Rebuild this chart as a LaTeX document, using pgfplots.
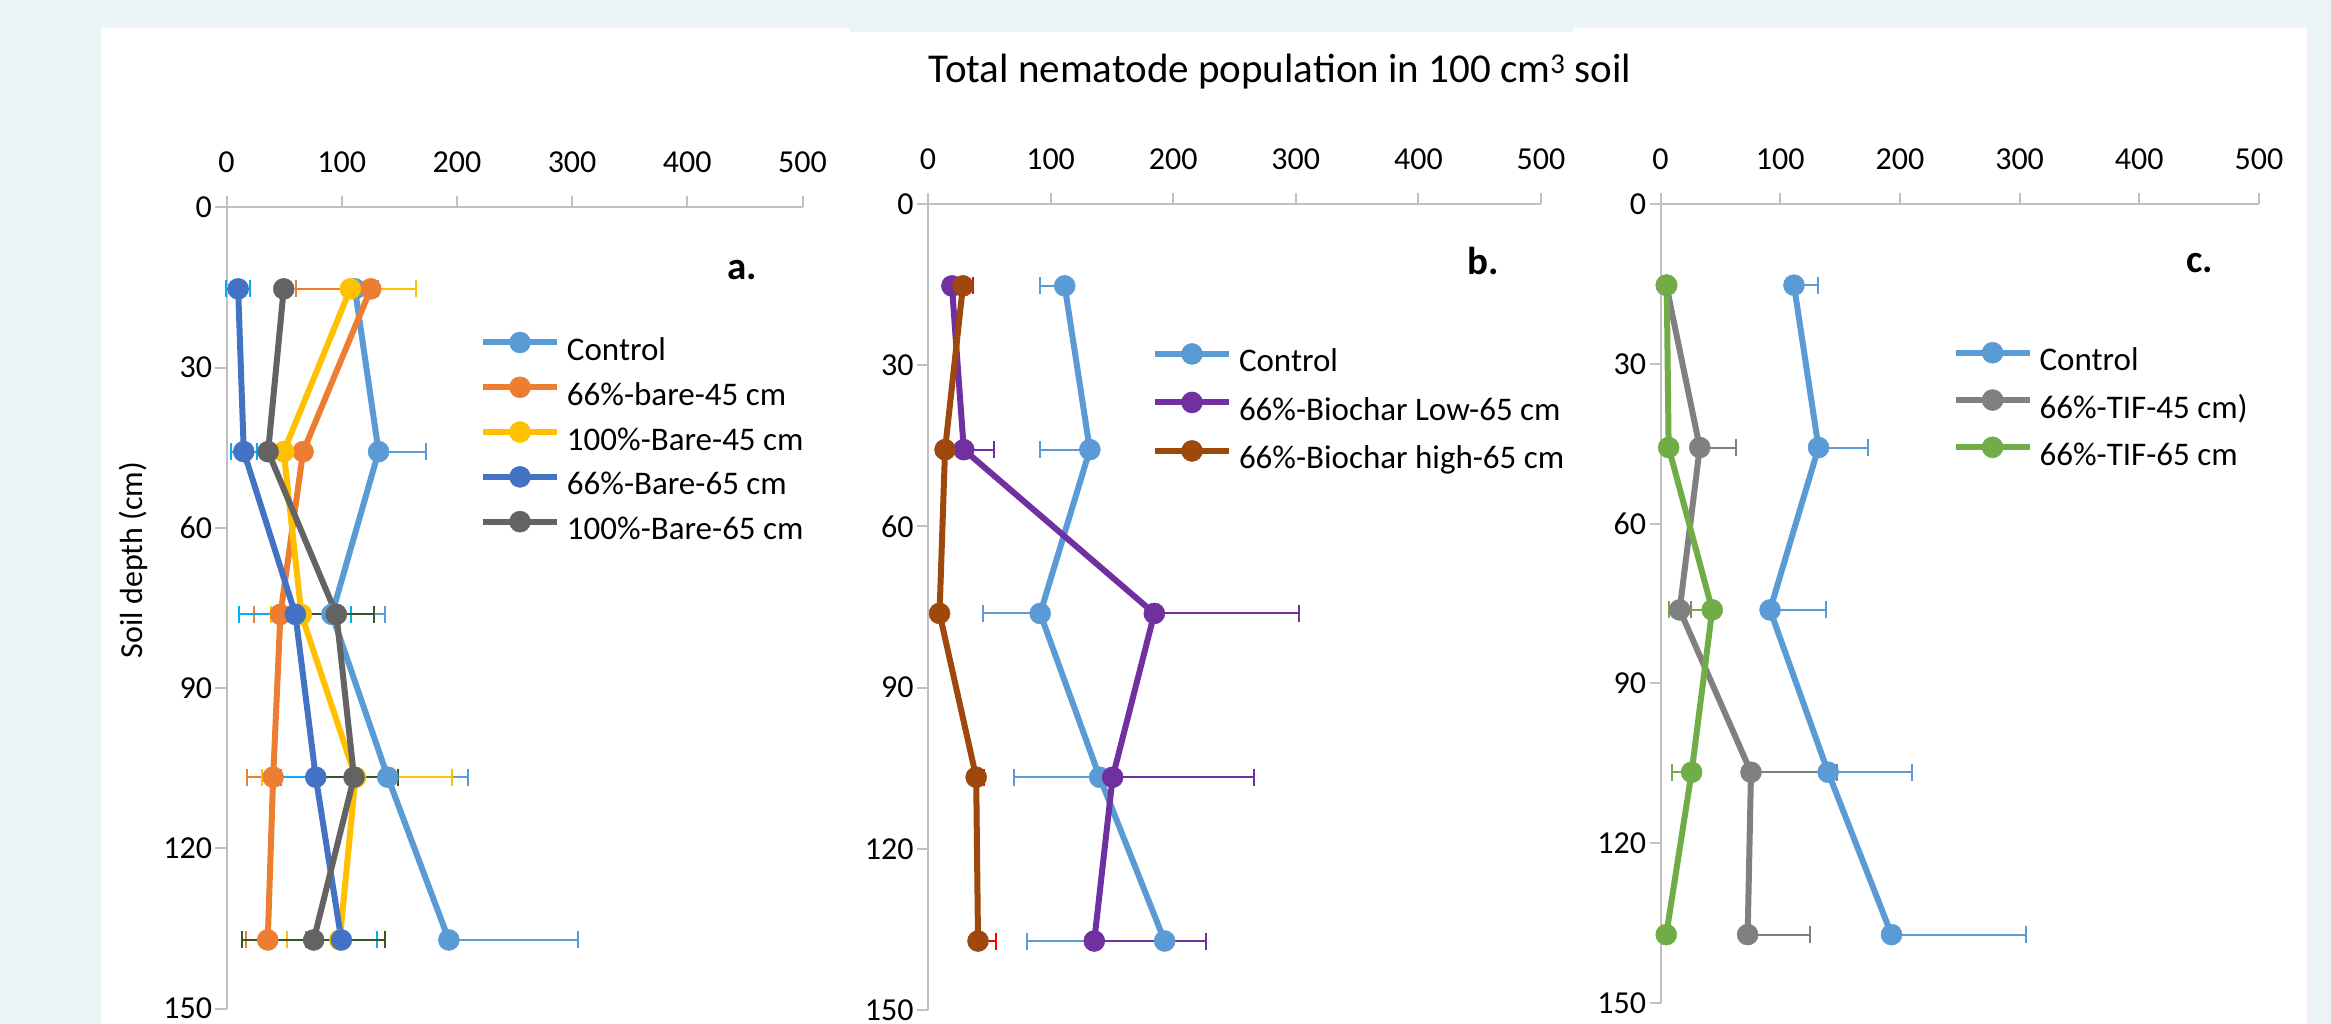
\documentclass[border=0pt]{standalone}
\usepackage{fontspec}
\setmainfont{Carlito}
\usepackage{pgfplots}
\pgfplotsset{compat=1.18}
\definecolor{bgc}{HTML}{EAF4F6}
\definecolor{cctrl}{HTML}{5B9BD5}
\definecolor{corange}{HTML}{ED7D31}
\definecolor{cyellow}{HTML}{FFC000}
\definecolor{cblue}{HTML}{4472C4}
\definecolor{cdgray}{HTML}{636363}
\definecolor{ccyan}{HTML}{00B0F0}
\definecolor{cdgreen}{HTML}{375623}
\definecolor{cpurple}{HTML}{7030A0}
\definecolor{cbrown}{HTML}{9E480E}
\definecolor{cred}{HTML}{FF0000}
\definecolor{cgray}{HTML}{808080}
\definecolor{cgreen}{HTML}{70AD47}
\definecolor{caxis}{HTML}{C0C0C0}
\pgfplotsset{
  panel/.style={
    scale only axis, clip=false,
    xmin=0, xmax=500, ymin=0, ymax=150, y dir=reverse,
    axis x line*=top, axis y line*=left,
    xtick={0,100,...,500}, ytick={0,30,...,150},
    tick align=outside, major tick length=11pt,
    axis line style={draw=caxis, line width=2pt},
    tick style={draw=caxis, line width=2pt},
    /pgf/number format/assume math mode=true,
    ticklabel style={font=\fontsize{32}{38}\selectfont},
    xticklabel style={yshift=20pt},
    legend cell align=left,
    legend style={draw=none, fill=none, inner sep=0pt, outer sep=0pt, anchor=north west,
      font=\fontsize{33}{40}\selectfont,
      nodes={inner sep=0pt, text height=22pt, text depth=6pt}, column sep=7pt},
    legend image code/.code={\draw[mark repeat=2,mark phase=2,##1] plot coordinates {(0pt,10pt) (37pt,10pt) (74pt,10pt)};},
  },
  ser/.style={color=#1, line width=6pt, mark=*, mark size=10.5pt,
    mark options={solid, fill=#1, draw=#1, line width=0.5pt}},
  eb/.style 2 args={forget plot, draw=none, mark=none,
    error bars/.cd, x dir=#2, x explicit, error mark=|,
    error bar style={draw=#1, line width=2pt},
    error mark options={draw=#1, line width=2pt, mark size=8.5pt}},
}
\begin{document}
\begin{tikzpicture}[x=1pt,y=1pt]
\useasboundingbox (0,0) rectangle (2331,1024);
\fill[bgc] (0,0) rectangle (2331,1024);
\fill[white] (101,0) rectangle (850,996);
\fill[white] (850,0) rectangle (1573,992);
\fill[white] (1573,0) rectangle (2307,996);
\node[anchor=base, font=\fontsize{41}{48}\selectfont] at (1280,941) {Total nematode population in 100 cm\textsuperscript{3} soil};
\node[rotate=90, font=\fontsize{32}{38}\selectfont] at (133,464) {Soil depth (cm)};
\node[anchor=base west, font=\bfseries\fontsize{39}{46}\selectfont] at (724,744) {a.};
\node[anchor=base west, font=\bfseries\fontsize{39}{46}\selectfont] at (1464,749) {b.};
\node[anchor=base west, font=\bfseries\fontsize{39}{46}\selectfont] at (2183,751) {c.};

% ---------------- panel a
\begin{axis}[panel, at={(226.5pt,15.5pt)}, anchor=south west, width=576pt, height=801pt,
  legend style={at={(axis description cs:0.4401,0.8446)}, row sep=10.3pt}]
\addplot[eb={cctrl}{plus}] coordinates {(111.5,15.24) +- (20,0) (132,45.72) +- (41,0) (91.5,76.2) +- (46.5,0) (140,106.68) +- (70,0) (193,137.16) +- (112,0)};
\addplot[eb={corange}{minus}] coordinates {(125.2,15.24) +- (64.5,0) (46.8,76.2) +- (23.1,0) (40.5,106.68) +- (22.6,0) (35.8,137.16) +- (18.5,0)};
\addplot[eb={cyellow}{plus}] coordinates {(107.5,15.24) +- (57.3,0) (112,106.68) +- (84,0)};
\addplot[eb={cyellow}{minus}] coordinates {(65,76.2) +- (26.5,0) (112,106.68) +- (81,0) (98.3,137.16) +- (45.4,0)};
\addplot[eb={ccyan}{both}] coordinates {(10.1,15.24) +- (10.5,0) (15,45.72) +- (11.3,0) (59.8,76.2) +- (48.7,0) (77.5,106.68) +- (30,0) (99.7,137.16) +- (31,0)};
\addplot[eb={cdgreen}{both}] coordinates {(95.4,76.2) +- (32.7,0) (110.7,106.68) +- (38,0) (75.7,137.16) +- (62,0)};
\addplot[ser=cctrl] coordinates {(111.5,15.24) (132,45.72) (91.5,76.2) (140,106.68) (193,137.16)};
\addlegendentry{Control}
\addplot[ser=corange] coordinates {(125.2,15.24) (66.5,45.72) (46.8,76.2) (40.5,106.68) (35.8,137.16)};
\addlegendentry{66\%-bare-45 cm}
\addplot[ser=cyellow] coordinates {(107.5,15.24) (49.7,45.72) (65,76.2) (112,106.68) (98.3,137.16)};
\addlegendentry{100\%-Bare-45 cm}
\addplot[ser=cblue] coordinates {(10.1,15.24) (15,45.72) (59.8,76.2) (77.5,106.68) (99.7,137.16)};
\addlegendentry{66\%-Bare-65 cm}
\addplot[ser=cdgray] coordinates {(49.7,15.24) (36.1,45.72) (95.4,76.2) (110.7,106.68) (75.7,137.16)};
\addlegendentry{100\%-Bare-65 cm}
\end{axis}

% ---------------- panel b
\begin{axis}[panel, at={(928pt,14pt)}, anchor=south west, width=613pt, height=806pt,
  legend style={at={(axis description cs:0.3654,0.827)}, row sep=14pt}]
\addplot[eb={cctrl}{minus}] coordinates {(111.5,15.24) +- (20,0) (132,45.72) +- (41,0) (91.5,76.2) +- (46.5,0) (140,106.68) +- (70,0) (193,137.16) +- (112,0)};
\addplot[eb={cpurple}{plus}] coordinates {(29.2,45.72) +- (25,0) (184.6,76.2) +- (117.6,0) (150.6,106.68) +- (115.3,0) (135.6,137.16) +- (91.4,0)};
\addplot[eb={cred}{plus}] coordinates {(28.5,15.24) +- (8.2,0) (39.3,106.68) +- (6.4,0) (40.8,137.16) +- (14.6,0)};
\addplot[ser=cctrl] coordinates {(111.5,15.24) (132,45.72) (91.5,76.2) (140,106.68) (193,137.16)};
\addlegendentry{Control}
\addplot[ser=cpurple] coordinates {(19.5,15.24) (29.2,45.72) (184.6,76.2) (150.6,106.68) (135.6,137.16)};
\addlegendentry{66\%-Biochar Low-65 cm}
\addplot[ser=cbrown] coordinates {(28.5,15.24) (13.9,45.72) (9.4,76.2) (39.3,106.68) (40.8,137.16)};
\addlegendentry{66\%-Biochar high-65 cm}
\end{axis}

% ---------------- panel c
\begin{axis}[panel, at={(1660.5pt,21pt)}, anchor=south west, width=598.5pt, height=799pt,
  legend style={at={(axis description cs:0.488,0.827)}, row sep=12.8pt}]
\addplot[eb={cctrl}{plus}] coordinates {(111.5,15.24) +- (20,0) (132,45.72) +- (41,0) (91.5,76.2) +- (46.5,0) (140,106.68) +- (70,0) (193,137.16) +- (112,0)};
\addplot[eb={cgray}{plus}] coordinates {(32.8,45.72) +- (30.4,0) (16,76.2) +- (9.6,0) (75.6,106.68) +- (72,0) (72.8,137.16) +- (52,0)};
\addplot[eb={cgreen}{minus}] coordinates {(43.2,76.2) +- (36.4,0) (26,106.68) +- (16.4,0)};
\addplot[ser=cctrl] coordinates {(111.5,15.24) (132,45.72) (91.5,76.2) (140,106.68) (193,137.16)};
\addlegendentry{Control}
\addplot[ser=cgray] coordinates {(4.8,15.24) (32.8,45.72) (16,76.2) (75.6,106.68) (72.8,137.16)};
\addlegendentry{66\%-TIF-45 cm)}
\addplot[ser=cgreen] coordinates {(5.2,15.24) (6.8,45.72) (43.2,76.2) (26,106.68) (4.8,137.16)};
\addlegendentry{66\%-TIF-65 cm}
\end{axis}
\end{tikzpicture}
\end{document}
